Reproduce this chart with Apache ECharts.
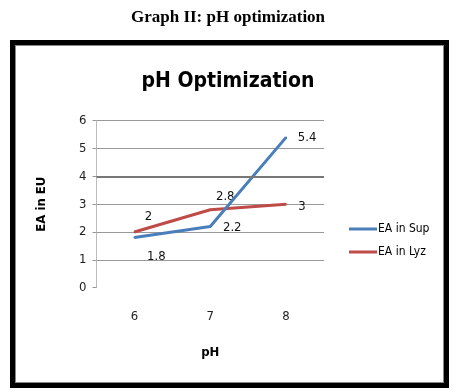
<!DOCTYPE html>
<html><head><meta charset="utf-8">
<script src="https://cdn.jsdelivr.net/npm/echarts@6/dist/echarts.min.js"></script>
<style>
html,body{margin:0;padding:0;background:#fff;}
#frame{position:absolute;left:10px;top:40px;width:429px;height:338px;border:5px solid #000;}
#frame:after{content:"";position:absolute;left:0;top:0;right:0;bottom:0;border:1px solid #888;}
#c{position:absolute;left:0;top:0;width:456px;height:392px;}
</style></head>
<body>
<div id="frame"></div>
<div id="c"></div>
<script>
const categories = ['6', '7', '8'];
const supValues = [1.8, 2.2, 5.4];
const lyzValues = [2, 2.8, 3];
const seriesNames = ['EA in Sup', 'EA in Lyz'];
const yTicks = [0, 1, 2, 3, 4, 5, 6];

const F = '"Liberation Sans Narrow", "DejaVu Sans Condensed", "Roboto Condensed", sans-serif';
const chart = echarts.init(document.getElementById('c'), null, {renderer: 'canvas'});

const supOffsets = [[22, 19], [22, 1], [21, 0]];
const lyzOffsets = [[14, -15], [15, -13], [16, 2]];

function mkData(vals, offs) {
  return vals.map((v, i) => ({
    value: v,
    label: {show: true, offset: offs[i]}
  }));
}

chart.setOption({
  animation: false,
  title: [
    {text: 'Graph II: pH optimization', left: 'center', top: 4,
     textStyle: {fontFamily: '"Liberation Serif", serif', fontWeight: 'bold', fontSize: 17, color: '#000'}},
    {text: 'pH Optimization', left: 'center', top: 66,
     textStyle: {fontFamily: F, fontWeight: 'bold', fontSize: 21, color: '#000'}}
  ],
  legend: {
    orient: 'vertical', left: 344, top: 217, itemWidth: 28, itemHeight: 3, itemGap: 9,
    data: seriesNames.map(n => ({name: n, icon: 'rect'})),
    textStyle: {fontFamily: F, fontSize: 12, color: '#000', padding: [0, 0, 0, -4], lineHeight: 14}
  },
  grid: {left: 96.5, right: 132, top: 120.7, bottom: 104.3, containLabel: false},
  xAxis: {
    type: 'category', data: categories, boundaryGap: true,
    name: 'pH', nameLocation: 'middle', nameGap: 58,
    nameTextStyle: {fontFamily: F, fontSize: 13, fontWeight: 'bold', color: '#000'},
    axisLine: {show: false}, axisTick: {show: false},
    axisLabel: {fontFamily: F, fontSize: 13, color: '#222', margin: 22}
  },
  yAxis: {
    type: 'value', min: yTicks[0], max: yTicks[yTicks.length - 1], interval: 1,
    name: 'EA in EU', nameLocation: 'middle', nameGap: 48, nameRotate: 90,
    nameTextStyle: {fontFamily: F, fontSize: 13, fontWeight: 'bold', color: '#000'},
    axisLine: {show: true, lineStyle: {color: '#bbb', width: 1}},
    axisTick: {show: true, length: 4, lineStyle: {color: '#999'}},
    axisLabel: {fontFamily: F, fontSize: 13, color: '#222', margin: 10},
    splitLine: {show: true, lineStyle: {color: ['transparent', '#999', '#999', '#999', '#777', '#999', '#999'], width: 1}}
  },
  series: [
    {name: seriesNames[0], type: 'line', symbol: 'circle', symbolSize: 2, showSymbol: true,
     data: mkData(supValues, supOffsets),
     lineStyle: {color: '#4A7EBB', width: 3}, itemStyle: {color: '#4A7EBB'},
     label: {show: true, position: 'inside', fontFamily: F, fontSize: 13, color: '#111'},
     markLine: {silent: true, symbol: 'none', label: {show: false},
       lineStyle: {color: '#777', width: 2, type: 'solid'}, data: [{yAxis: yTicks[4]}]},
     z: 3},
    {name: seriesNames[1], type: 'line', symbol: 'circle', symbolSize: 2, showSymbol: true,
     data: mkData(lyzValues, lyzOffsets),
     lineStyle: {color: '#BE4B48', width: 3}, itemStyle: {color: '#BE4B48'},
     label: {show: true, position: 'inside', fontFamily: F, fontSize: 13, color: '#111'},
     z: 2}
  ]
});
</script>
</body></html>
